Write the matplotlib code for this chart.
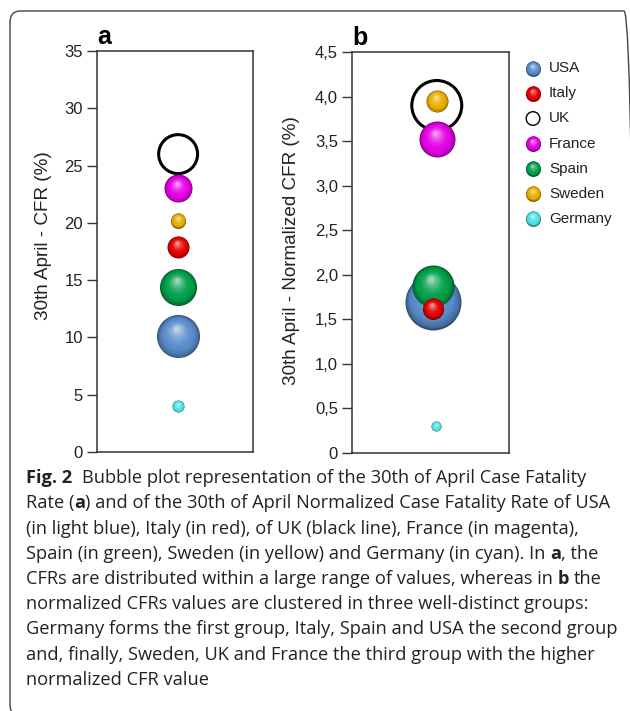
import numpy as np
import matplotlib
matplotlib.use("Agg")
import matplotlib.pyplot as plt
from matplotlib.colors import to_rgb
from matplotlib.transforms import ScaledTranslation
from matplotlib.patches import FancyBboxPatch

# ---------------- data ----------------
countries = ["USA", "Italy", "UK", "France", "Spain", "Sweden", "Germany"]
colors = ["#5a8ccc", "#e60000", "none", "#e600e6", "#00a04a", "#e8b000", "#4fe3e3"]

# panel a: 30th April CFR (%)
cfr_a = [10.1, 17.9, 26.0, 23.0, 14.4, 20.2, 4.0]
xpos_a = [1.04, 1.04, 1.04, 1.04, 1.04, 1.04, 1.04]
bubble_a = [43, 22, 42, 28, 37, 15, 12]  # bubble diameters (px)

# panel b: 30th April normalized CFR (%)
cfr_b = [1.70, 1.62, 3.90, 3.52, 1.87, 3.95, 0.30]
xpos_b = [1.03, 1.03, 1.08, 1.08, 1.03, 1.08, 1.07]
bubble_b = [56, 21, 53, 36, 42, 22, 10]

# draw order (bottom -> top)
order_a = ["UK", "France", "Sweden", "Italy", "Spain", "USA", "Germany"]
order_b = ["UK", "France", "Sweden", "USA", "Spain", "Italy", "Germany"]

yticks_a = [0, 5, 10, 15, 20, 25, 30, 35]
yticklabels_a = ["0", "5", "10", "15", "20", "25", "30", "35"]
yticks_b = [0, 0.5, 1.0, 1.5, 2.0, 2.5, 3.0, 3.5, 4.0, 4.5]
yticklabels_b = ["0", "0,5", "1,0", "1,5", "2,0", "2,5", "3,0", "3,5", "4,0", "4,5"]

caption_lines = [
    [("Fig. 2", True), ("  Bubble plot representation of the 30th of April Case Fatality", False)],
    [("Rate (", False), ("a", True), (") and of the 30th of April Normalized Case Fatality Rate of USA", False)],
    [("(in light blue), Italy (in red), of UK (black line), France (in magenta),", False)],
    [("Spain (in green), Sweden (in yellow) and Germany (in cyan). In ", False), ("a", True), (", the", False)],
    [("CFRs are distributed within a large range of values, whereas in ", False), ("b", True), (" the", False)],
    [("normalized CFRs values are clustered in three well-distinct groups:", False)],
    [("Germany forms the first group, Italy, Spain and USA the second group", False)],
    [("and, finally, Sweden, UK and France the third group with the higher", False)],
    [("normalized CFR value", False)],
]

# ---------------- figure ----------------
W, H, DPI = 630, 711, 100
fig = plt.figure(figsize=(W / DPI, H / DPI), dpi=DPI)
fig.patch.set_facecolor("white")
plt.rcParams["font.family"] = ["Liberation Sans", "DejaVu Sans"]


def px_axes(l, t, r, b):
    return fig.add_axes([l / W, 1 - b / H, (r - l) / W, (b - t) / H])


def sphere(ax, x, y, d_px, color, z, hollow=False, lw=2.2):
    R = d_px / 2 * 72 / DPI  # radius in points
    if hollow:
        ax.scatter([x], [y], s=(2 * R - lw) ** 2, facecolors="none",
                   edgecolors="black", linewidths=lw, zorder=z, clip_on=False)
        return
    base = np.array(to_rgb(color))
    dark = base * 0.55
    light = base + (1 - base) * 0.6
    N = 26
    for i in range(N):
        t = i / (N - 1)
        r = R * (1 - 0.9 * t)
        dx = -0.08 * R * t
        dy = 0.36 * R * t
        if t < 0.3:
            c = dark + (base - dark) * (t / 0.3) ** 0.5
        else:
            c = base + (light - base) * ((t - 0.3) / 0.7) ** 1.8
        tr = ax.transData + ScaledTranslation(dx / 72, dy / 72, fig.dpi_scale_trans)
        ax.scatter([x], [y], s=(2 * r) ** 2, color=np.clip(c, 0, 1), transform=tr,
                   linewidths=0, zorder=z + i * 0.001, clip_on=False)


def style_axes(ax, yticks, ylabels, ymax):
    ax.set_xlim(0, 2)
    ax.set_ylim(0, ymax)
    ax.set_xticks([])
    ax.set_yticks(yticks)
    ax.set_yticklabels(ylabels, fontsize=12, color="#222222")
    ax.tick_params(axis="y", length=7, width=1, pad=3, direction="out", color="#333333")
    for s in ax.spines.values():
        s.set_linewidth(1.1)
        s.set_color("#333333")


# panel a
axa = px_axes(97, 51, 253, 452)
style_axes(axa, yticks_a, yticklabels_a, 35)
for k, name in enumerate(order_a):
    i = countries.index(name)
    sphere(axa, xpos_a[i], cfr_a[i], bubble_a[i], colors[i], 3 + k, hollow=(name == "UK"))
axa.set_ylabel("30th April - CFR (%)", fontsize=13.6, color="#222222")
axa.yaxis.label.set_va("center")
axa.yaxis.set_label_coords(-0.345, 0.54)
axa.text(0.0, 1.005, "a", transform=axa.transAxes, fontsize=18, fontweight="bold",
         ha="left", va="bottom")

# panel b
axb = px_axes(352, 52, 509, 453)
style_axes(axb, yticks_b, yticklabels_b, 4.5)
for k, name in enumerate(order_b):
    i = countries.index(name)
    sphere(axb, xpos_b[i], cfr_b[i], bubble_b[i], colors[i], 3 + k, hollow=(name == "UK"))
axb.set_ylabel("30th April - Normalized CFR (%)", fontsize=13.6, color="#222222")
axb.yaxis.label.set_va("center")
axb.yaxis.set_label_coords(-0.385, 0.506)
axb.text(0.0, 1.005, "b", transform=axb.transAxes, fontsize=18, fontweight="bold",
         ha="left", va="bottom")

# legend (drawn as shaded spheres)
axl = px_axes(515, 56, 630, 231)
axl.set_xlim(0, 115)
axl.set_ylim(len(countries) - 0.5, -0.5)
axl.axis("off")
for i, name in enumerate(countries):
    sphere(axl, 18, i, 15, colors[i], 3, hollow=(name == "UK"), lw=1.0)
    axl.text(34, i, name, fontsize=11, va="center", ha="left", color="#222222")

# caption
renderer = fig.canvas.get_renderer()
cap_font = "Open Sans"
cap_size = 12.0


def text_w(s, bold, size):
    t = fig.text(0, 0, s, fontsize=size, family=cap_font,
                 fontweight="bold" if bold else "normal")
    w = t.get_window_extent(renderer).width
    t.remove()
    return w


# fit the caption font size to the width of the widest line
target = 615 - 26
longest = caption_lines[6][0][0]
cap_size = cap_size * target / text_w(longest, False, cap_size)
space_w = text_w("x x", False, cap_size) - text_w("xx", False, cap_size)

x0, base0, step = 26, 483, 25.25
for li, segs in enumerate(caption_lines):
    x = x0
    yb = base0 + li * step
    for s, bold in segs:
        lead = len(s) - len(s.lstrip(" "))
        trail = len(s) - len(s.rstrip(" "))
        core = s.strip(" ")
        x += lead * space_w
        t = fig.text(x / W, 1 - yb / H, core, fontsize=cap_size, family=cap_font,
                     fontweight="bold" if bold else "normal", color="#222222",
                     ha="left", va="baseline")
        x += t.get_window_extent(renderer).width + trail * space_w

# rounded frame (extends past the right and bottom edges of the picture)
frame = FancyBboxPatch((10 / W, 1 - 716 / H), (634 - 10) / W, (716 - 11) / H,
                       boxstyle="round,pad=0,rounding_size=0.016",
                       transform=fig.transFigure, fill=False, edgecolor="#444444",
                       linewidth=1.0, zorder=0)
fig.patches.append(frame)

fig.savefig("out.png", dpi=DPI, facecolor="white")
